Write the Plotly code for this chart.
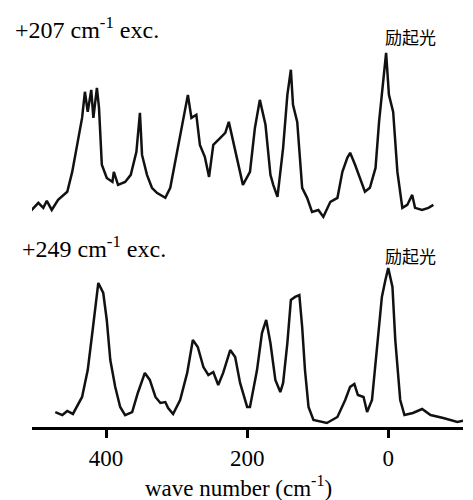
import plotly.graph_objects as go

# ---- data: wavenumber (cm-1) and relative intensity (strongest peak = 100) ----
wn_top = [508, 496, 489, 484, 477, 468, 455, 448, 441, 434, 430, 426, 421, 418, 413,
          410, 406, 399, 391, 389, 383, 373, 365, 357, 352, 349, 342, 335, 328, 316,
          309, 302, 292, 284, 279, 272, 267, 260, 254, 248, 238, 231, 226, 220, 213,
          206, 196, 189, 182, 174, 167, 163, 157, 149, 143, 138, 135, 129, 122, 115,
          108, 99, 92, 82, 72, 65, 58, 54, 47, 40, 33, 26, 18, 13, 7,
          3, -1, -7, -13, -20, -27, -34, -38, -48, -57, -64]
int_top = [8.1, 13.3, 10.4, 14.5, 9.2, 15.0, 19.7, 31.2, 46.8, 62.4, 77.5, 65.9, 78.6, 62.4, 79.8,
           68.2, 35.3, 27.7, 25.4, 31.2, 23.7, 25.4, 29.5, 42.8, 65.3, 41.0, 29.5, 22.0, 19.1, 16.2,
           22.0, 37.0, 56.6, 75.7, 62.4, 64.2, 46.8, 39.9, 28.3, 46.8, 50.9, 53.8, 60.1, 48.6, 37.0,
           23.7, 31.2, 56.6, 72.8, 58.4, 29.5, 23.7, 16.8, 45.1, 75.7, 90.2, 69.9, 60.1, 22.0, 16.2,
           8.1, 9.2, 5.2, 13.9, 16.2, 31.2, 39.3, 42.2, 35.3, 27.7, 19.7, 22.0, 33.5, 60.1, 83.2,
           100.0, 75.7, 65.9, 31.2, 10.4, 12.1, 17.9, 10.4, 9.2, 10.4, 12.1]

wn_bot = [472, 462, 455, 447, 434, 426, 419, 411, 404, 399, 394, 387, 380, 373, 363,
          355, 345, 338, 330, 323, 316, 312, 305, 295, 285, 277, 270, 262, 255, 248,
          241, 234, 224, 217, 210, 200, 196, 186, 179, 173, 167, 160, 153, 149, 143,
          138, 132, 126, 122, 118, 113, 106, 87, 72, 61, 54, 48, 43, 35, 30,
          23, 16, 9, 4, 0, -6, -10, -17, -23, -35, -48, -60, -78, -98, -116]
int_bot = [9.4, 7.5, 10.1, 8.2, 18.9, 35.8, 61.0, 90.6, 84.3, 67.3, 42.1, 25.2, 12.6, 7.5, 9.4,
           21.4, 34.0, 29.6, 18.9, 15.1, 15.7, 11.9, 8.2, 17.0, 34.0, 54.7, 50.3, 37.7, 32.7, 34.6,
           26.4, 34.0, 48.4, 44.0, 27.7, 12.6, 12.6, 35.8, 59.1, 67.3, 52.8, 29.6, 22.0, 27.7, 52.8,
           79.9, 81.8, 83.0, 62.9, 35.8, 12.6, 4.4, 2.5, 6.3, 17.0, 25.2, 27.0, 20.1, 18.9, 9.4,
           17.0, 50.3, 81.8, 92.5, 100.0, 88.1, 54.7, 17.0, 7.5, 8.8, 11.3, 7.5, 5.7, 3.1, 5.0]

tick_vals = [400, 200, 0]
tick_text = ["400", "200", "0"]
label_top = "+207 cm<sup>-1</sup> exc."
label_bot = "+249 cm<sup>-1</sup> exc."
exc_label = "励起光"
x_title = "wave number (cm<sup>-1</sup>)"

SERIF = "Liberation Serif"
CJK = "Noto Sans CJK SC"

fig = go.Figure()
fig.add_trace(go.Scatter(x=wn_bot, y=int_bot, mode="lines",
                         line=dict(color="#111111", width=2.5), xaxis="x", yaxis="y",
                         showlegend=False, hoverinfo="skip"))
fig.add_trace(go.Scatter(x=wn_top, y=int_top, mode="lines",
                         line=dict(color="#111111", width=2.5), xaxis="x", yaxis="y2",
                         showlegend=False, hoverinfo="skip"))

fig.update_layout(
    width=465, height=492,
    margin=dict(l=24, r=10, t=0, b=73),
    paper_bgcolor="white", plot_bgcolor="white",
    font=dict(family=SERIF, color="black"),
    xaxis=dict(range=[505, -106], tickvals=tick_vals, ticktext=tick_text,
               showline=True, linecolor="black", linewidth=3,
               ticks="outside", ticklen=8, tickwidth=3, tickcolor="black",
               showgrid=False, zeroline=False,
               tickfont=dict(family=SERIF, size=23, color="black")),
    yaxis=dict(domain=[0, 0.48], range=[0, 126.5], visible=False, fixedrange=True),
    yaxis2=dict(domain=[0.48, 1], range=[0, 125.9], visible=False, fixedrange=True),
    annotations=[
        dict(text=label_top, xref="paper", yref="paper", x=-0.044, y=0.952,
             xanchor="left", yanchor="middle", showarrow=False,
             font=dict(family=SERIF, size=24, color="black")),
        dict(text=label_bot, xref="paper", yref="paper", x=-0.028, y=0.4296,
             xanchor="left", yanchor="middle", showarrow=False,
             font=dict(family=SERIF, size=24, color="black")),
        dict(text=exc_label, xref="x", yref="paper", x=-31, y=0.931,
             xanchor="center", yanchor="middle", showarrow=False,
             font=dict(family=CJK, size=17, color="black")),
        dict(text=exc_label, xref="x", yref="paper", x=-31, y=0.4105,
             xanchor="center", yanchor="middle", showarrow=False,
             font=dict(family=CJK, size=17, color="black")),
        dict(text=x_title, xref="paper", yref="paper", x=0.478, y=-0.143,
             xanchor="center", yanchor="middle", showarrow=False,
             font=dict(family=SERIF, size=23, color="black")),
    ],
)

fig.write_html("out.html")
